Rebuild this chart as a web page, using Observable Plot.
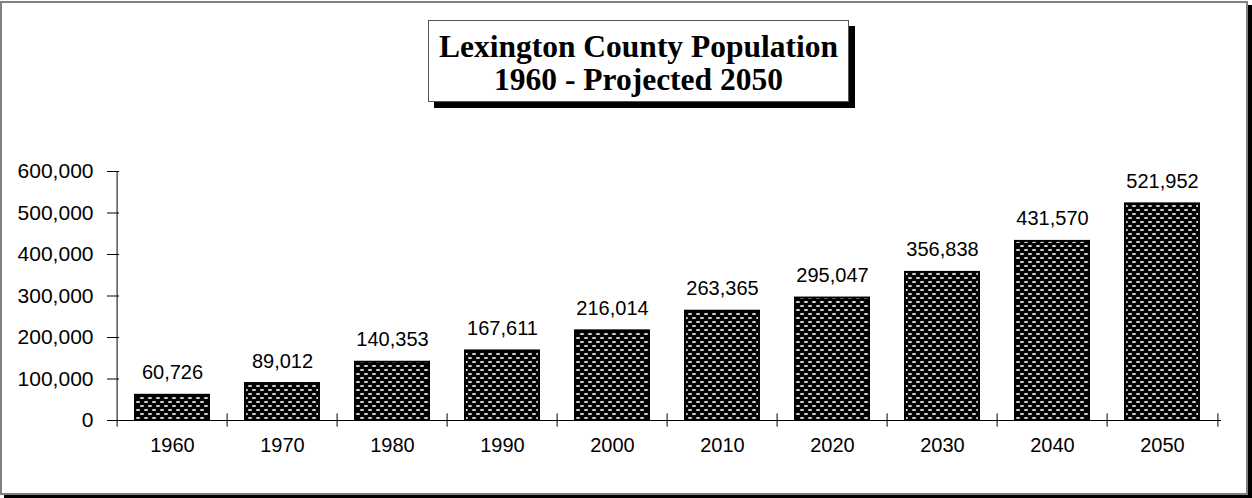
<!DOCTYPE html>
<html><head><meta charset="utf-8">
<script src="https://cdn.jsdelivr.net/npm/d3@7"></script>
<script src="https://cdn.jsdelivr.net/npm/@observablehq/plot@0.6"></script>
<style>
body{margin:0;background:#fff;}
#wrap{position:relative;width:1252px;height:498px;overflow:hidden;}
#frame{position:absolute;left:0;top:1px;width:1244px;height:490px;border:2px solid #808080;box-shadow:4px 4px 0 #000;z-index:0;}
#chart{position:absolute;left:0;top:0;z-index:1;}
#title{position:absolute;left:428px;top:20px;width:419px;height:80px;border:1px solid #555;background:#fff;box-shadow:6px 6px 0 #000;z-index:2;box-sizing:content-box;
 font-family:"Liberation Serif","Times New Roman",serif;font-weight:bold;font-size:31.5px;line-height:32.5px;text-align:center;display:flex;flex-direction:column;justify-content:center;color:#000;}
#title .in{padding-top:5px;}
</style>
</head><body>
<div id="wrap">
  <div id="frame"></div>
  <div id="chart"></div>
  <div id="title"><div class="in"><div>Lexington County Population</div><div>1960 - Projected 2050</div></div></div>
</div>
<script>
const years = ["1960","1970","1980","1990","2000","2010","2020","2030","2040","2050"];
const population = [60726, 89012, 140353, 167611, 216014, 263365, 295047, 356838, 431570, 521952];
const yTicks = [0, 100000, 200000, 300000, 400000, 500000, 600000];

const data = years.map((y, i) => ({year: y, pop: population[i]}));
const W = 1252, H = 498, mL = 113, mR = 31, mT = 171, mB = 78;
const plotW = W - mL - mR;
const bw = plotW / years.length;
const fmt = d3.format(",");

const defs = () => {
  const d = d3.create("svg:defs");
  const p = d.append("pattern").attr("id", "pat").attr("patternUnits", "userSpaceOnUse")
    .attr("width", 8).attr("height", 8);
  p.append("rect").attr("width", 8).attr("height", 8).attr("fill", "#000");
  p.append("ellipse").attr("cx", 2).attr("cy", 2).attr("rx", 2.2).attr("ry", 1).attr("fill", "#e6e6e6");
  p.append("ellipse").attr("cx", 6).attr("cy", 6).attr("rx", 2.2).attr("ry", 1).attr("fill", "#e6e6e6");
  return d.node();
};

const chart = Plot.plot({
  width: W, height: H,
  marginLeft: mL, marginRight: mR, marginTop: mT, marginBottom: mB,
  style: {fontFamily: '"Liberation Sans", Arial, sans-serif', fontSize: "20px", color: "#000", background: "transparent"},
  x: {domain: years, padding: 0, label: null},
  y: {domain: [0, 600000], label: null},
  marks: [
    defs,
    Plot.barY(data, {x: "year", y: "pop", fill: "url(#pat)", stroke: "#000", strokeWidth: 2, insetLeft: 18, insetRight: 18}),
    Plot.ruleY([0], {stroke: "#000"}),
    Plot.ruleX([years[0]], {x: d => d, y1: -16000, y2: 600000, dx: -bw / 2, stroke: "#000"}),
    Plot.ruleX(years.slice(1), {x: d => d, y1: -16000, y2: 16000, dx: -bw / 2, stroke: "#000"}),
    Plot.ruleX([years[years.length - 1]], {x: d => d, y1: -16000, y2: 16000, dx: bw / 2, stroke: "#000"}),
    Plot.ruleY(yTicks, {y: d => d, insetRight: plotW - 12, dx: -6, stroke: "#000"}),
    Plot.axisY({ticks: yTicks, tickSize: 0, tickPadding: 20, tickFormat: fmt, fontSize: 21}),
    Plot.axisX({tickSize: 0, tickPadding: 17, fontSize: 20}),
    Plot.text(data, {x: "year", y: "pop", text: d => fmt(d.pop), lineAnchor: "bottom", dy: -16, fontSize: 20, fill: "#000"})
  ]
});
document.getElementById("chart").appendChild(chart);
</script>
</body></html>
